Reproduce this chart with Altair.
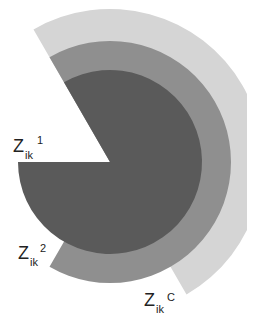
import altair as alt
import pandas as pd

# sectors (angles in degrees, clockwise from 12 o'clock)
names = ["C", "2", "1"]
starts = [-30, -30, -30]
ends = [150, 210, 270]
radii = [153, 121, 92]
layers = [0, 1, 2]
colors = ["#d5d5d5", "#8f8f8f", "#5a5a5a"]

df = pd.DataFrame({"name": names, "start": starts, "end": ends, "r": radii, "layer": layers})

arcs = alt.Chart(df).mark_arc(stroke=None).encode(
    theta=alt.Theta("start:Q", scale=alt.Scale(domain=[0, 360], range=[0, 6.283185307])),
    theta2="end:Q",
    radius=alt.Radius("r:Q", scale=alt.Scale(type="linear", domain=[0, 160], range=[0, 160], zero=True)),
    color=alt.Color("name:N", scale=alt.Scale(domain=names, range=colors), legend=None),
    order=alt.Order("layer:Q"),
    x=alt.value(102),
    y=alt.value(154),
)

# labels
main_txt = ["Z", "Z", "Z"]
sub_txt = ["ik", "ik", "ik"]
sup_txt = ["1", "2", "C"]

# layout (x, y) of Z, subscript, superscript for each label
layout = [
    ((5, 144), (17, 151), (29, 136)),
    ((10, 251), (22, 258), (32, 244)),
    ((136, 298), (148, 305), (159, 293)),
]

dummy = pd.DataFrame({"d": [0]})
texts = []
for i in range(3):
    (zx, zy), (sx, sy), (px, py) = layout[i]
    for (tx, ty), t, fs in [((zx, zy), main_txt[i], 18), ((sx, sy), sub_txt[i], 11), ((px, py), sup_txt[i], 11)]:
        texts.append(
            alt.Chart(dummy).mark_text(
                text=t, font="Liberation Sans", fontSize=fs, color="#222222",
                align="left", baseline="alphabetic"
            ).encode(x=alt.value(tx), y=alt.value(ty))
        )

chart = alt.layer(arcs, *texts).properties(
    width=239, height=308, autosize="none", padding=0
).configure_view(stroke=None)

chart.save("out.html", embed_options={"renderer": "svg", "actions": False})
